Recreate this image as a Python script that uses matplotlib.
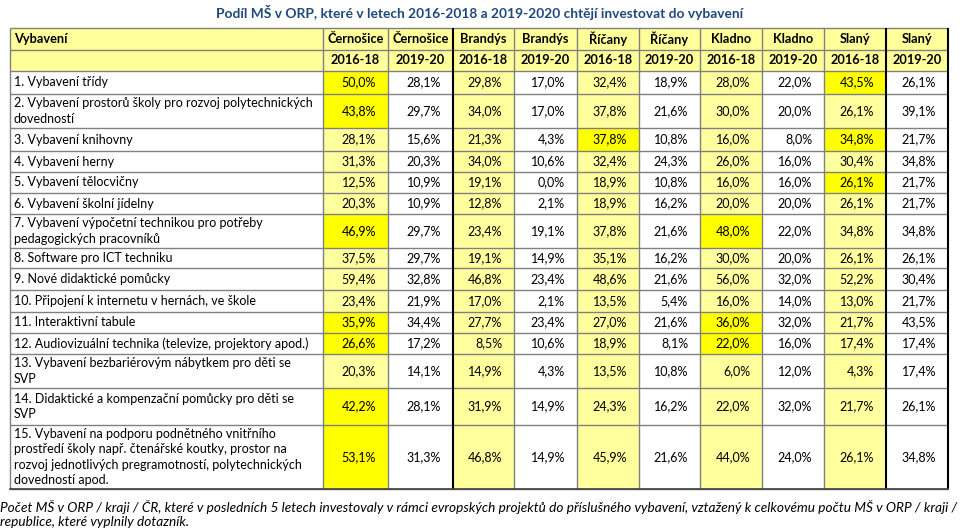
import matplotlib
matplotlib.use("Agg")
import matplotlib.pyplot as plt
from matplotlib.patches import Rectangle

plt.rcParams['font.family'] = ['Lato', 'DejaVu Sans']

# ---------------- data ----------------
title = "Podíl MŠ v ORP, které v letech 2016-2018 a 2019-2020 chtějí investovat do vybavení"
header_first = "Vybavení"
regions = ["Černošice", "Černošice", "Brandýs", "Brandýs", "Říčany", "Říčany",
           "Kladno", "Kladno", "Slaný", "Slaný"]
periods = ["2016-18", "2019-20"] * 5

labels = [
    "1. Vybavení třídy",
    "2. Vybavení prostorů školy pro rozvoj polytechnických\ndovedností",
    "3. Vybavení knihovny",
    "4. Vybavení herny",
    "5. Vybavení tělocvičny",
    "6. Vybavení školní jídelny",
    "7. Vybavení výpočetní technikou pro potřeby\npedagogických pracovníků",
    "8. Software pro ICT techniku",
    "9. Nové didaktické pomůcky",
    "10. Připojení k internetu v hernách, ve škole",
    "11. Interaktivní tabule",
    "12. Audiovizuální technika (televize, projektory apod.)",
    "13. Vybavení bezbariérovým nábytkem pro děti se\nSVP",
    "14. Didaktické a kompenzační pomůcky pro děti se\nSVP",
    "15. Vybavení na podporu podnětného vnitřního\nprostředí školy např. čtenářské koutky, prostor na\nrozvoj jednotlivých pregramotností, polytechnických\ndovedností apod.",
]

cernosice_2016 = [50.0, 43.8, 28.1, 31.3, 12.5, 20.3, 46.9, 37.5, 59.4, 23.4, 35.9, 26.6, 20.3, 42.2, 53.1]
cernosice_2019 = [28.1, 29.7, 15.6, 20.3, 10.9, 10.9, 29.7, 29.7, 32.8, 21.9, 34.4, 17.2, 14.1, 28.1, 31.3]
brandys_2016   = [29.8, 34.0, 21.3, 34.0, 19.1, 12.8, 23.4, 19.1, 46.8, 17.0, 27.7, 8.5, 14.9, 31.9, 46.8]
brandys_2019   = [17.0, 17.0, 4.3, 10.6, 0.0, 2.1, 19.1, 14.9, 23.4, 2.1, 23.4, 10.6, 4.3, 14.9, 14.9]
ricany_2016    = [32.4, 37.8, 37.8, 32.4, 18.9, 18.9, 37.8, 35.1, 48.6, 13.5, 27.0, 18.9, 13.5, 24.3, 45.9]
ricany_2019    = [18.9, 21.6, 10.8, 24.3, 10.8, 16.2, 21.6, 16.2, 21.6, 5.4, 21.6, 8.1, 10.8, 16.2, 21.6]
kladno_2016    = [28.0, 30.0, 16.0, 26.0, 16.0, 20.0, 48.0, 30.0, 56.0, 16.0, 36.0, 22.0, 6.0, 22.0, 44.0]
kladno_2019    = [22.0, 20.0, 8.0, 16.0, 16.0, 20.0, 22.0, 20.0, 32.0, 14.0, 32.0, 16.0, 12.0, 32.0, 24.0]
slany_2016     = [43.5, 26.1, 34.8, 30.4, 26.1, 26.1, 34.8, 26.1, 52.2, 13.0, 21.7, 17.4, 4.3, 21.7, 26.1]
slany_2019     = [26.1, 39.1, 21.7, 34.8, 21.7, 21.7, 34.8, 26.1, 30.4, 21.7, 43.5, 17.4, 17.4, 26.1, 34.8]

columns = [cernosice_2016, cernosice_2019, brandys_2016, brandys_2019, ricany_2016,
           ricany_2019, kladno_2016, kladno_2019, slany_2016, slany_2019]

# highlighted cells (row index, column index)
highlighted = [(0, 0), (0, 8), (1, 0), (2, 4), (2, 8), (4, 8), (6, 0), (6, 6),
               (10, 0), (10, 6), (11, 0), (11, 6), (13, 0), (14, 0)]

footnote = ("Počet MŠ v ORP / kraji / ČR, které v posledních 5 letech investovaly v rámci evropských projektů do příslušného vybavení, vztažený k celkovému počtu MŠ v ORP / kraji /\n"
            "republice, které vyplnily dotazník.")

# ---------------- layout ----------------
col_edges = [10, 323, 388, 453, 514, 577, 639, 700, 762, 824, 886, 948]
header_edges = [28, 50, 71]
row_edges = [71, 94, 128, 151, 172, 193, 214, 248, 268, 290, 312, 333, 354, 388, 425, 489]

PALE = "#FFFF9E"
BRIGHT = "#FFFF00"
HEADER = "#FFFF99"
GRID = "#808080"
FS = 9.0
FS_HEAD = 9.2

fig = plt.figure(figsize=(9.6, 5.32), dpi=100)
ax = fig.add_axes([0, 0, 1, 1])
ax.set_xlim(0, 960)
ax.set_ylim(532, 0)
ax.axis("off")

def fmt(v):
    return f"{v:.1f}%".replace(".", ",")

# title
ax.text(480, 12, title, ha="center", va="center", fontsize=9.95, fontweight="bold",
        color="#1F497D")

# header background
ax.add_patch(Rectangle((col_edges[0], header_edges[0]), col_edges[-1] - col_edges[0],
                       header_edges[-1] - header_edges[0], facecolor=HEADER, edgecolor="none"))
ax.text(col_edges[0] + 4, (header_edges[0] + header_edges[1]) / 2, header_first,
        ha="left", va="center", fontsize=FS_HEAD, fontweight="bold")
for j in range(len(regions)):
    xc = (col_edges[j + 1] + col_edges[j + 2]) / 2
    ax.text(xc, (header_edges[0] + header_edges[1]) / 2, regions[j], ha="center",
            va="center", fontsize=FS_HEAD, fontweight="bold")
    ax.text(xc, (header_edges[1] + header_edges[2]) / 2, periods[j], ha="center",
            va="center", fontsize=FS_HEAD, fontweight="bold")

# body
for i, lab in enumerate(labels):
    y0, y1 = row_edges[i], row_edges[i + 1]
    yc = (y0 + y1) / 2
    ax.text(col_edges[0] + 4, yc, lab, ha="left", va="center", fontsize=FS,
            linespacing=1.33)
    for j, col in enumerate(columns):
        x0, x1 = col_edges[j + 1], col_edges[j + 2]
        if (i, j) in highlighted:
            fc = BRIGHT
        elif periods[j] == "2016-18":
            fc = PALE
        else:
            fc = None
        if fc:
            ax.add_patch(Rectangle((x0, y0), x1 - x0, y1 - y0, facecolor=fc, edgecolor="none"))
        ax.text(x1 - 12, yc, fmt(col[i]), ha="right", va="center", fontsize=FS)

# grid lines
top, bottom = header_edges[0], row_edges[-1]
for y in header_edges + row_edges[1:]:
    ax.plot([col_edges[0], col_edges[-1]], [y, y], color=GRID, lw=1.0, solid_capstyle="butt")
for k, x in enumerate(col_edges):
    dark = x in (453, 886, 948)
    ax.plot([x, x], [top, bottom], color="black" if dark else GRID,
            lw=1.5 if dark else 1.0, solid_capstyle="butt")
ax.plot([col_edges[0], col_edges[-1]], [bottom, bottom], color="#404040", lw=1.2)

# footnote
ax.text(0, 514, footnote, ha="left", va="center", fontsize=9.8, style="italic",
        linespacing=1.2)

fig.savefig("out.png", dpi=100)
